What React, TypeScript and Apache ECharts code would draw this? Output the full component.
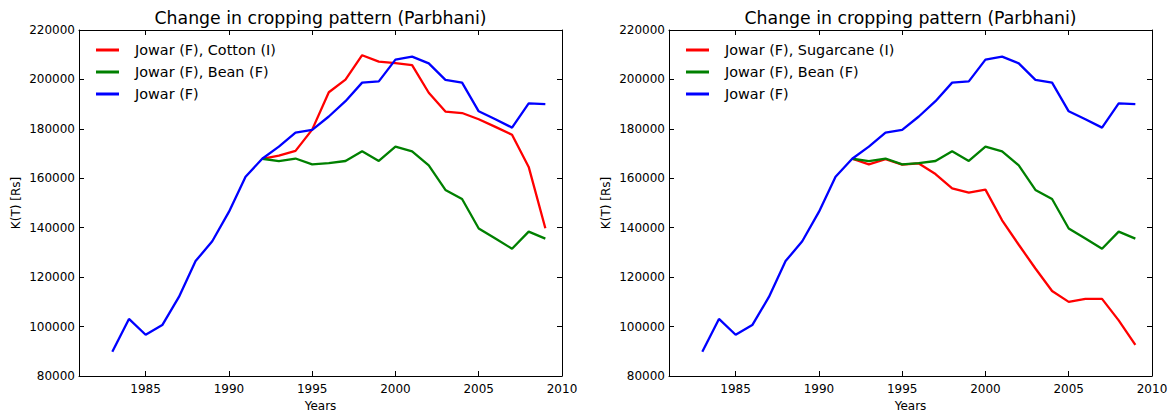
import React, { useEffect, useRef } from 'react';
import * as echarts from 'echarts';

const chartTitle = 'Change in cropping pattern (Parbhani)';
const xName = 'Years';
const yName = 'K(T) [Rs]';

const jowarYears = [1983, 1984, 1985, 1986, 1987, 1988, 1989, 1990, 1991, 1992, 1993, 1994, 1995, 1996, 1997, 1998, 1999, 2000, 2001, 2002, 2003, 2004, 2005, 2006, 2007, 2008, 2009];
const jowar = [89800, 103100, 96700, 100600, 112000, 126500, 134500, 146400, 160600, 167900, 172800, 178500, 179600, 185000, 191200, 198700, 199200, 208000, 209200, 206500, 199800, 198700, 187100, 183900, 180500, 190300, 190000];

const pairYears = [1992, 1993, 1994, 1995, 1996, 1997, 1998, 1999, 2000, 2001, 2002, 2003, 2004, 2005, 2006, 2007, 2008, 2009];
const cotton = [167900, 169200, 171100, 179700, 194800, 199900, 209800, 207200, 206600, 205800, 194600, 187000, 186400, 183900, 180800, 177600, 164600, 139800];
const bean = [167900, 166900, 168000, 165600, 166100, 167000, 170900, 167000, 172800, 170900, 165200, 155300, 151600, 139700, 135600, 131500, 138400, 135600];
const sugarcane = [167900, 165600, 167700, 165500, 166000, 161700, 155900, 154200, 155400, 143000, 133100, 123500, 114400, 110000, 111200, 111200, 102500, 92600];

const leftNames = ['Jowar (F), Cotton (I)', 'Jowar (F), Bean (F)', 'Jowar (F)'];
const rightNames = ['Jowar (F), Sugarcane (I)', 'Jowar (F), Bean (F)', 'Jowar (F)'];
const colors = ['#ff0000', '#008000', '#0000ff'];

const xTicks = [1985, 1990, 1995, 2000, 2005, 2010];
const yTicks = [80000, 100000, 120000, 140000, 160000, 180000, 200000, 220000];

const xMin = 1981;
const xMax = 2010;
const yMin = 80000;
const yMax = 220000;

const FONT = 'DejaVu Sans';

function pairs(xs: number[], ys: number[]) {
  return xs.map((x, i) => [x, ys[i]]);
}

export default function App() {
  const ref = useRef<HTMLDivElement>(null);

  useEffect(() => {
    const chart = echarts.init(ref.current!, null, { renderer: 'svg' });

    const grids = [
      { left: 79, top: 30, width: 483, height: 346, containLabel: false, outerBoundsMode: 'none' },
      { left: 669, top: 30, width: 483, height: 346, containLabel: false, outerBoundsMode: 'none' },
    ];

    const axisLine = { show: true, onZero: false, lineStyle: { color: '#000', width: 1 } };
    const tick = (vals: number[]) => ({
      show: true,
      inside: true,
      length: 5,
      customValues: vals,
      lineStyle: { color: '#000', width: 1 },
    });

    const makeX = (gi: number, main: boolean) => ({
      type: 'value',
      gridIndex: gi,
      position: main ? 'bottom' : 'top',
      min: xMin,
      max: xMax,
      axisLine,
      axisTick: tick(xTicks),
      splitLine: { show: false },
      axisLabel: {
        show: main,
        margin: 7,
        fontFamily: FONT,
        fontSize: 12,
        color: '#000',
        customValues: xTicks,
        formatter: (v: number) => String(v),
      },
      name: main ? xName : '',
      nameLocation: 'middle',
      nameGap: 22,
      nameTextStyle: { fontFamily: FONT, fontSize: 12, color: '#000' },
    });

    const makeY = (gi: number, main: boolean) => ({
      type: 'value',
      gridIndex: gi,
      position: main ? 'left' : 'right',
      min: yMin,
      max: yMax,
      interval: 20000,
      axisLine,
      axisTick: tick(yTicks),
      splitLine: { show: false },
      axisLabel: {
        show: main,
        margin: 4,
        fontFamily: FONT,
        fontSize: 12,
        color: '#000',
        customValues: yTicks,
        formatter: (v: number) => String(v),
      },
      name: main ? yName : '',
      nameLocation: 'middle',
      nameGap: 57,
      nameTextStyle: { fontFamily: FONT, fontSize: 12, color: '#000' },
    });

    const line = (name: string, xs: number[], ys: number[], color: string, axisIdx: number) => ({
      type: 'line',
      name,
      xAxisIndex: axisIdx,
      yAxisIndex: axisIdx,
      data: pairs(xs, ys),
      showSymbol: false,
      symbol: 'none',
      color,
      itemStyle: { color },
      lineStyle: { color, width: 2.3 },
    });

    const legend = (left: number, names: string[]) => ({
      orient: 'vertical',
      left,
      top: 42,
      padding: 0,
      itemWidth: 23,
      itemHeight: 3,
      itemGap: 6,
      icon: 'rect',
      data: names,
      selectedMode: false,
      textStyle: {
        fontFamily: FONT,
        fontSize: 14.4,
        color: '#000',
        lineHeight: 16,
        padding: [0, 0, 0, 11],
      },
    });

    const titleStyle = { fontFamily: FONT, fontSize: 17.3, fontWeight: 'normal', color: '#000', lineHeight: 18 };

    chart.setOption({
      animation: false,
      backgroundColor: '#fff',
      title: [
        { text: chartTitle, left: 320.5, top: 9, padding: 0, textAlign: 'center', textStyle: titleStyle },
        { text: chartTitle, left: 910.5, top: 9, padding: 0, textAlign: 'center', textStyle: titleStyle },
      ],
      legend: [legend(96, leftNames), legend(686, rightNames)],
      grid: grids,
      xAxis: [makeX(0, true), makeX(0, false), makeX(1, true), makeX(1, false)],
      yAxis: [makeY(0, true), makeY(0, false), makeY(1, true), makeY(1, false)],
      series: [
        line(leftNames[0], pairYears, cotton, colors[0], 0),
        line(leftNames[1], pairYears, bean, colors[1], 0),
        line(leftNames[2], jowarYears, jowar, colors[2], 0),
        line(rightNames[0], pairYears, sugarcane, colors[0], 2),
        line(rightNames[1], pairYears, bean, colors[1], 2),
        line(rightNames[2], jowarYears, jowar, colors[2], 2),
      ],
    });

    return () => {
      chart.dispose();
    };
  }, []);

  return (
    <div
      ref={ref}
      style={{ position: 'absolute', left: 0, top: 0, width: 1173, height: 412, background: '#fff' }}
    />
  );
}
